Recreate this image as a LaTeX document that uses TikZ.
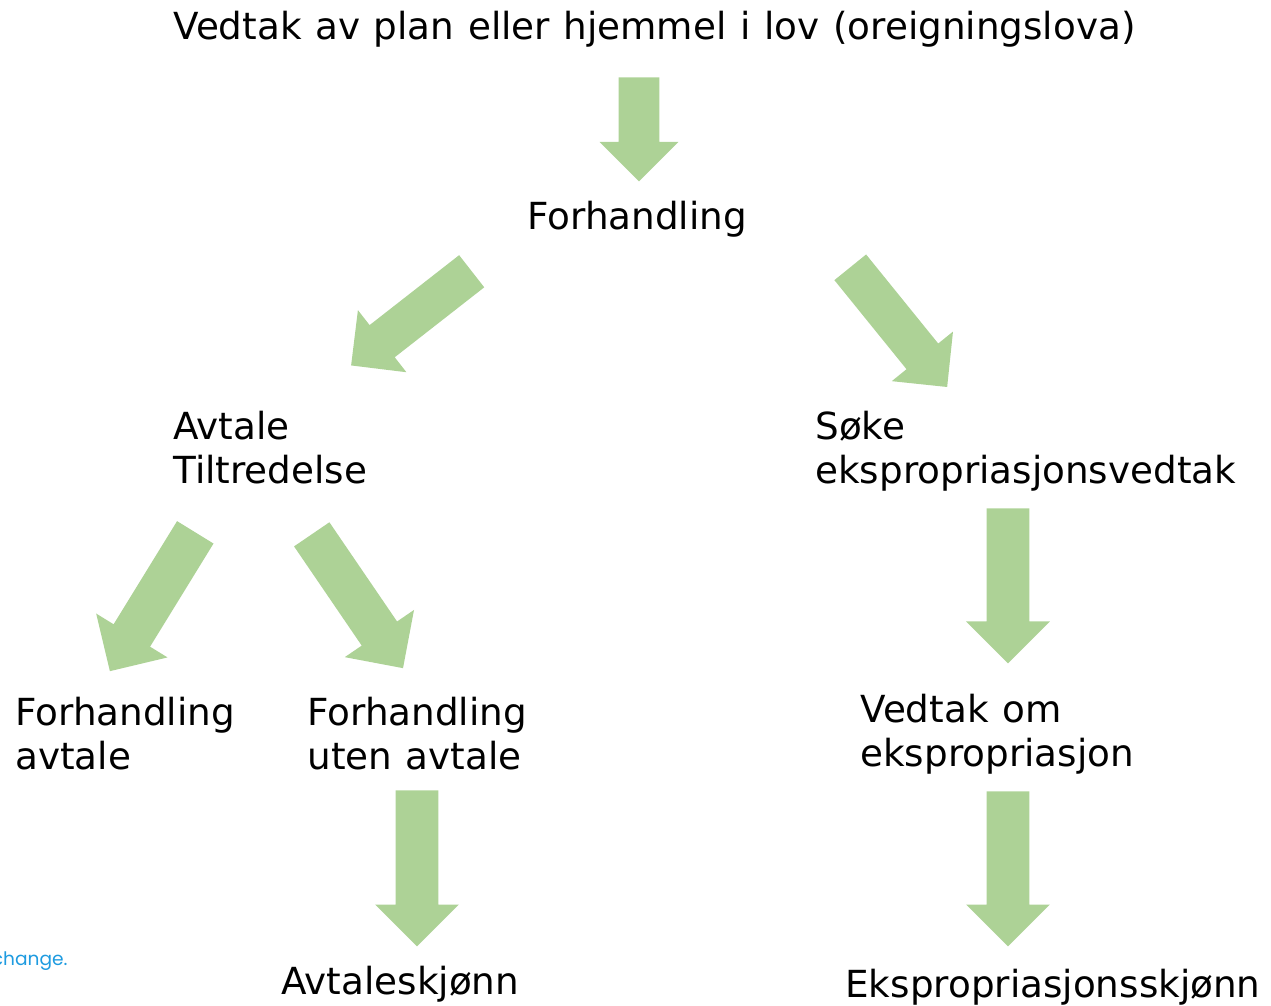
\documentclass[tikz,border=0pt]{standalone}
\usepackage{fontspec}
\setmainfont[WordSpace=1.15]{DejaVu Sans}
\newfontfamily\notefont{Poppins}
\usetikzlibrary{shapes.arrows}
\definecolor{arrowgreen}{RGB}{173,210,150}
\definecolor{noteblue}{RGB}{30,155,224}
\tikzset{
  lbl/.style={anchor=base west, inner sep=0pt, align=left, font=\fontsize{18.65}{22}\selectfont},
  garrow/.style={single arrow, fill=arrowgreen, draw=none, inner sep=0pt, anchor=tail,
    text height=20pt, text depth=0pt, single arrow head extend=9.5pt, single arrow head indent=0pt},
  bigarrow/.style={garrow, text height=21pt, single arrow head extend=10.25pt}
}
\begin{document}
\begin{tikzpicture}[x=0.5pt, y=-0.5pt]
    \useasboundingbox (0,0) rectangle (1271,1006);
    % texts (base anchor = last line)
    \node[lbl] (vedtak) at (173,40) {Vedtak av plan eller hjemmel i lov (oreigningslova)};
    \node[lbl] (forh) at (527,230) {Forhandling};
    \node[lbl] (avtale) at (173,483) {Avtale\\Tiltredelse};
    \node[lbl] (soke) at (815,483) {Søke\\ekspropriasjonsvedtak};
    \node[lbl] (forhavt) at (15,769) {Forhandling\\avtale};
    \node[lbl] (forhuten) at (307,769) {Forhandling\\uten avtale};
    \node[lbl] (vedtakom) at (860,766) {Vedtak om\\ekspropriasjon};
    \node[lbl] (avtskj) at (281,994) {Avtaleskjønn};
    \node[lbl] (ekspskj) at (845,997) {Ekspropriasjonsskjønn};
    \node[anchor=base east, inner sep=0pt, text=noteblue, font=\notefont\fontsize{9.3}{11}\selectfont] (note) at (68,965) {change.};
    % arrows, placed at their tails
    \node[garrow, minimum height=52pt, rotate=-90] (a1) at (639,77) {};
    \node[garrow, minimum height=76.5pt, rotate=218] (a2) at (472,271) {};
    \node[garrow, minimum height=77pt, rotate=-51] (a3) at (850,267) {};
    \node[bigarrow, minimum height=81.5pt, rotate=-121.6] (a4) at (195.5,532) {};
    \node[bigarrow, minimum height=81pt, rotate=-55.7] (a5) at (311.5,534) {};
    \node[bigarrow, minimum height=77.5pt, rotate=-90] (a6) at (1008,508) {};
    \node[bigarrow, minimum height=77.5pt, rotate=-90] (a7) at (1008,791) {};
    \node[bigarrow, minimum height=78pt, rotate=-90] (a8) at (417,790) {};
\end{tikzpicture}
\end{document}
